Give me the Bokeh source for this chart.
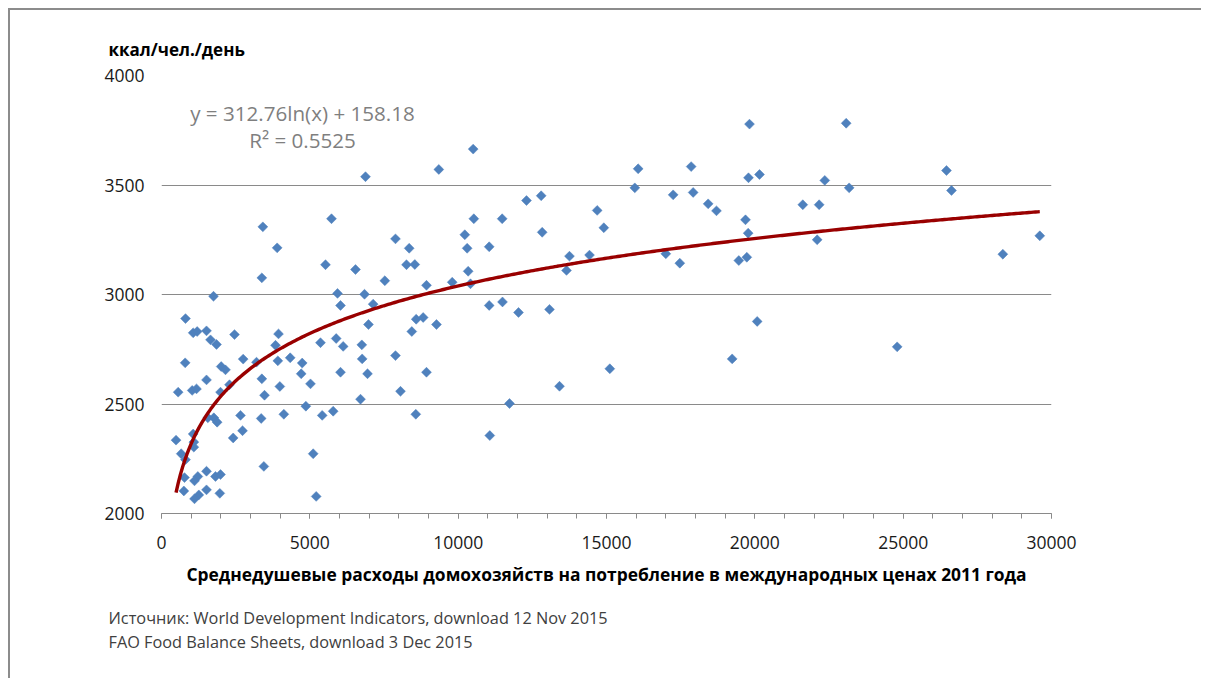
import numpy as np
from bokeh.plotting import figure
from bokeh.models import Range1d, Label, FixedTicker, Title
from bokeh.embed import file_html
from bokeh.resources import INLINE

# --- data ---
x_spend = [490, 562, 809, 1068, 1202, 1517, 1652, 1854, 1753, 2461, 3944, 3843, 798, 2012, 2157,
           2753, 3202, 3921, 4338, 4743, 4709, 5022, 1517, 1034, 1180, 1989, 2292, 3382, 3472, 3989,
           4866, 1562, 1764, 1876, 2663, 3360, 4124, 2731, 2416, 1068, 1090, 1090, 664, 809, 775,
           1517, 1225, 1112, 1820, 1989, 3450, 753, 1517, 1258, 1112, 1966, 5113, 5214,
           5730, 5528, 6539, 7887, 8349, 8258, 8538, 7528, 8932, 9799, 10224, 10303, 10528, 10337,
           10415, 11046, 11046, 11483, 5933, 6843, 6034, 7135, 6977, 8585, 8820, 9269, 8437, 5359,
           5888, 6124, 6752, 6764, 7887, 6034, 6944, 8932, 8056, 6708, 5417, 5787, 8572, 11066,
           11494, 6876, 9348, 10506, 3416, 3899, 3382, 16067, 15954, 17247, 12303, 12798, 12832,
           14686, 14910, 13752, 14427, 13652, 16999, 17471, 12034, 13079, 15112, 13416, 11730,
           19820, 23079, 17854, 19786, 20157, 26460, 26629, 17921, 18427, 18707, 22358, 23180,
           21617, 22168, 19685, 19775, 22101, 29605, 19460, 19730, 28360, 20079, 19236, 24798]
y_kcal = [2335, 2554, 2890, 2825, 2831, 2834, 2793, 2772, 2992, 2817, 2820, 2768, 2688, 2671, 2656,
          2705, 2691, 2697, 2711, 2687, 2638, 2592, 2610, 2562, 2569, 2554, 2588, 2615, 2540, 2580,
          2490, 2437, 2437, 2417, 2448, 2434, 2453, 2378, 2345, 2363, 2326, 2303, 2273, 2246, 2164,
          2193, 2169, 2149, 2169, 2178, 2215, 2103, 2108, 2085, 2067, 2092, 2273, 2078,
          3346, 3136, 3114, 3254, 3211, 3136, 3137, 3063, 3042, 3056, 3273, 3211, 3346, 3106,
          3049, 3218, 2950, 3346, 3005, 3001, 2950, 2956, 2863, 2887, 2895, 2863, 2831, 2780,
          2799, 2763, 2770, 2706, 2721, 2645, 2638, 2645, 2558, 2522, 2448, 2467, 2453, 2356,
          2966, 3538, 3571, 3664, 3309, 3213, 3076, 3574, 3487, 3455, 3429, 3451, 3284,
          3384, 3305, 3175, 3180, 3110, 3186, 3143, 2918, 2932, 2661, 2581, 2502,
          3778, 3782, 3584, 3533, 3548, 3566, 3475, 3466, 3414, 3382, 3521, 3487,
          3410, 3410, 3341, 3280, 3250, 3268, 3155, 3170, 3184, 2877, 2706, 2761]

# trendline as stated on the chart: y = 312.76 ln(x) + 158.18
trend_a = 312.76
trend_b = 158.18
trend_eq = "y = 312.76ln(x) + 158.18"
trend_r2 = "R\u00b2 = 0.5525"

x_ticks = [0, 5000, 10000, 15000, 20000, 25000, 30000]
y_ticks = [2000, 2500, 3000, 3500, 4000]

y_title = "ккал/чел./день"
x_title = "Среднедушевые расходы домохозяйств на потребление в международных ценах 2011 года"
source_1 = "Источник: World Development Indicators, download 12 Nov 2015"
source_2 = "FAO Food Balance Sheets, download 3 Dec 2015"

FONT = "Open Sans"
GRID = "#8a8a8a"

p = figure(width=1193, height=670, output_backend="svg", toolbar_location=None,
           x_range=Range1d(0, 30000), y_range=Range1d(2000, 4000),
           min_border_left=151, min_border_right=152, min_border_top=65, min_border_bottom=167)
p.styles = {"border-top": "2px solid #8c8c8c", "border-left": "2px solid #8c8c8c",
            "margin-left": "8px", "margin-top": "8px"}
p.outline_line_color = None
p.background_fill_color = "white"
p.border_fill_color = "white"

# y-axis unit label as the plot title (top left)
p.title.text = y_title
p.title.align = "left"
p.title.offset = -53
p.title.text_font = FONT
p.title.text_font_size = "17px"
p.title.text_font_style = "bold"
p.title.text_color = "#000000"
p.title.standoff = 30

# axes
p.xaxis.ticker = FixedTicker(ticks=x_ticks, minor_ticks=list(range(0, 30001, 1000)))
p.yaxis.ticker = FixedTicker(ticks=y_ticks)
p.xaxis.axis_line_color = GRID
p.xaxis.major_tick_line_color = GRID
p.xaxis.minor_tick_line_color = GRID
p.xaxis.major_tick_in = 0
p.xaxis.major_tick_out = 5
p.xaxis.minor_tick_in = 0
p.xaxis.minor_tick_out = 5
p.xaxis.major_label_standoff = 17
p.yaxis.axis_line_color = None
p.yaxis.major_tick_line_color = None
p.yaxis.minor_tick_line_color = None
p.yaxis.major_tick_in = 0
p.yaxis.major_tick_out = 0
p.yaxis.minor_tick_in = 0
p.yaxis.minor_tick_out = 0
p.yaxis.major_label_standoff = 17
for ax in (p.xaxis, p.yaxis):
    ax.major_label_text_font = FONT
    ax.major_label_text_font_size = "17.5px"
    ax.major_label_text_color = "#1a1a1a"

p.xaxis.axis_label = x_title
p.xaxis.axis_label_text_font = FONT
p.xaxis.axis_label_text_font_size = "17.4px"
p.xaxis.axis_label_text_font_style = "bold"
p.xaxis.axis_label_text_color = "#000000"
p.xaxis.axis_label_standoff = 10

src = Title(text=source_1 + "\n" + source_2, align="left", offset=-53,
            text_font=FONT, text_font_size="16.3px", text_font_style="normal",
            text_color="#404040", standoff=33, text_line_height=1.1)
p.add_layout(src, "below")

p.xgrid.grid_line_color = None
p.ygrid.grid_line_color = GRID
p.ygrid.grid_line_width = 1

# scatter
p.scatter(x_spend, y_kcal, marker="square", angle=np.pi / 4, size=7,
          fill_color="#4F81BD", line_color="#4F81BD", line_width=0.5)

# trendline
tx = np.linspace(min(x_spend), max(x_spend), 400)
ty = trend_a * np.log(tx) + trend_b
p.line(tx, ty, line_color="#990000", line_width=3.4)

# equation texts inside the plot (screen units relative to the frame)
for yy, t in ((401, trend_eq), (374, trend_r2)):
    p.add_layout(Label(x=141, y=yy, x_units="screen", y_units="screen", text=t,
                       text_font=FONT, text_font_size="20.6px", text_color="#7f7f7f",
                       text_align="center", text_baseline="middle"))

open("out.html", "w").write(file_html(p, INLINE))
